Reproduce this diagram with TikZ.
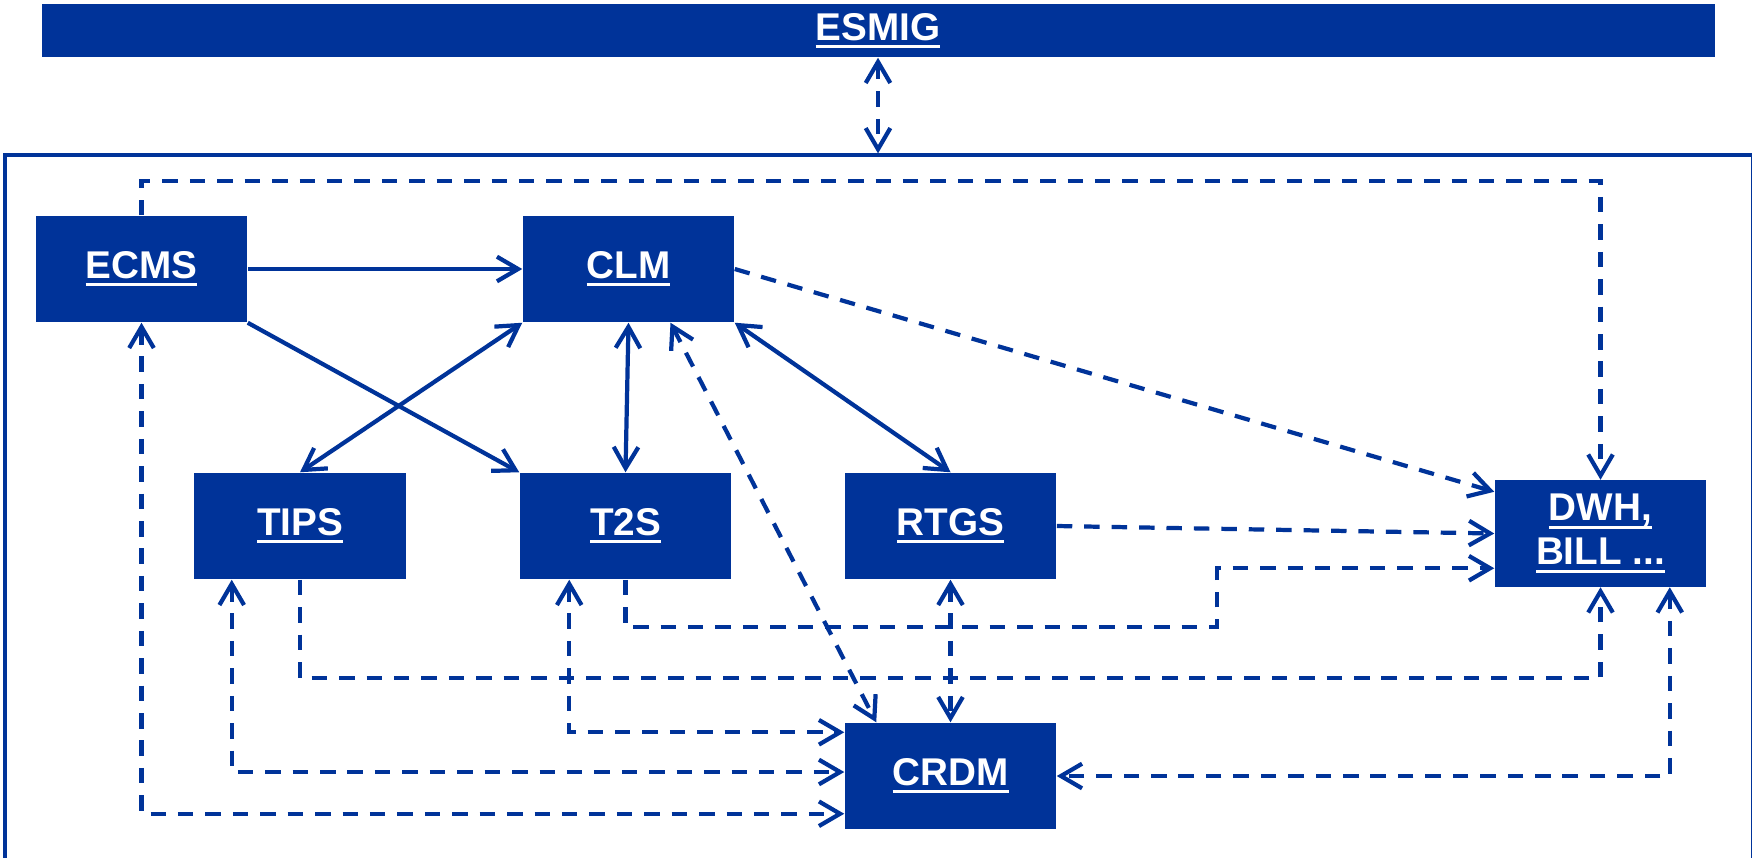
\documentclass[tikz,border=0pt]{standalone}
\usepackage{fontspec}
\setmainfont{Liberation Sans}
\usetikzlibrary{arrows.meta,calc}
\definecolor{ecbblue}{RGB}{0,51,153}
\newcommand{\sysname}[1]{\leavevmode\setbox1=\hbox{#1}\rlap{\rule[-2.2pt]{\wd1}{0.9pt}}\box1}

\begin{document}
\begin{tikzpicture}[x=0.01cm, y=-0.01cm,
    sysbox/.style={rectangle, fill=ecbblue, text=white, font=\bfseries\fontsize{11}{12.5}\selectfont,
                   minimum width=2.11cm, minimum height=1.06cm, inner sep=0pt, align=center},
    link/.style={draw=ecbblue, line width=1.2pt},
    dlink/.style={link, dash pattern=on 4.4pt off 3.4pt},
    >={Straight Barb[length=6pt,width=7pt]}]
                \useasboundingbox (0,0) rectangle (1752,857);

                % ESMIG bar and frame
                \node[sysbox, minimum width=16.72cm, minimum height=0.525cm] (esmig) at (878,30.75) {\sysname{ESMIG}};
                \node[draw=ecbblue, line width=1.1pt, minimum width=17.465cm, minimum height=7.145cm, inner sep=0pt] (frame) at (878.75,512.75) {};

                % Systems
                \node[sysbox] (ecms) at (141.5,269) {\sysname{ECMS}};
                \node[sysbox] (clm) at (628.5,269) {\sysname{CLM}};
                \node[sysbox] (tips) at (300,526) {\sysname{TIPS}};
                \node[sysbox] (t2s) at (625.5,526) {\sysname{T2S}};
                \node[sysbox] (rtgs) at (950.5,526) {\sysname{RTGS}};
                \node[sysbox] (dwh) at (1600.5,533.5) {\sysname{DWH,}\\\sysname{BILL ...}};
                \node[sysbox] (crdm) at (950.5,776) {\sysname{CRDM}};

                % ESMIG link
                \draw[dlink, <->] (esmig.south) -- (esmig.south |- frame.north);

                % Solid links
                \draw[link, ->] (ecms) -- (clm);
                \draw[link, ->] (ecms.south east) -- (t2s.north west);
                \draw[link, <->] (tips.north) -- (clm.south west);
                \draw[link, <->] (clm.south) -- (t2s.north);
                \draw[link, <->] (clm.south east) -- (rtgs.north);

                % Dashed links to DWH
                \draw[dlink, ->] (ecms.north) -- ++(0,-34) -| (dwh.north);
                \draw[dlink, ->] (clm.east) -- ($(dwh.north west)+(0,12)$);
                \draw[dlink, ->] (rtgs.east) -- (dwh.west);
                \draw[dlink, ->] (t2s.south) |- (1217,627) |- ($(dwh.south west)+(0,-19)$);
                \draw[dlink, ->] (tips.south) -- ++(0,98) -| (dwh.south);

                % Dashed links to CRDM
                \draw[dlink, <->] ($(clm.south)+(42,0)$) -- ($(crdm.north west)+(32,0)$);
                \draw[dlink, <->] (rtgs.south) -- (crdm.north);
                \draw[dlink, <->] ($(t2s.south west)+(50,0)$) |- ($(crdm.north west)+(0,10)$);
                \draw[dlink, <->] ($(tips.south west)+(38,0)$) |- ($(crdm.west)+(0,-4)$);
                \draw[dlink, <->] (ecms.south) |- ($(crdm.south west)+(0,-16)$);
                \draw[dlink, <->] ($(dwh.south east)+(-37,0)$) |- (crdm.east);
            \end{tikzpicture}
\end{document}
